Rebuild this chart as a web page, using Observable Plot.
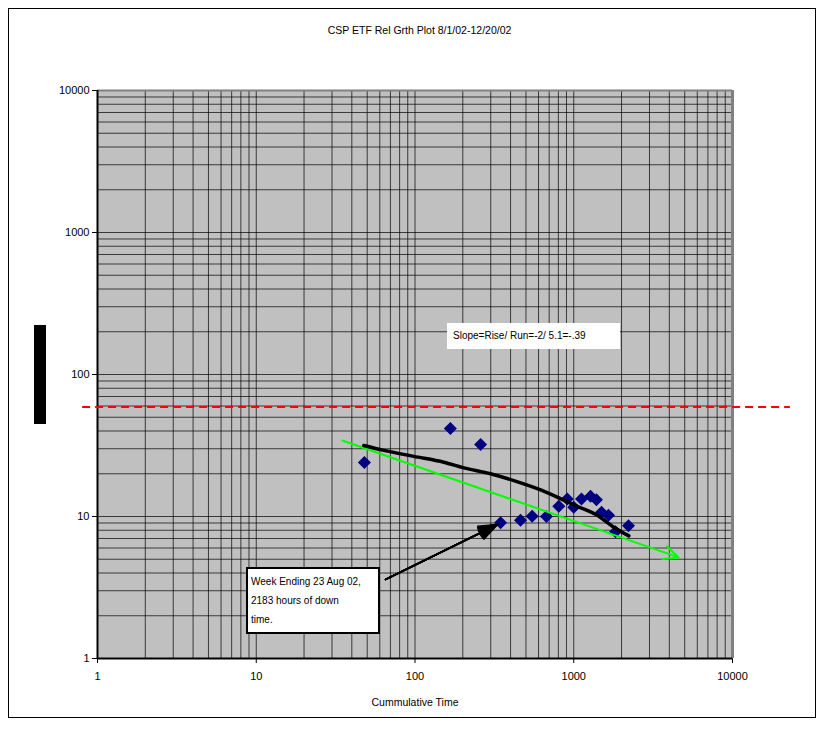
<!DOCTYPE html>
<html>
<head>
<meta charset="utf-8">
<script src="https://cdn.jsdelivr.net/npm/d3@7"></script>
<script src="https://cdn.jsdelivr.net/npm/@observablehq/plot@0.6"></script>
<style>
  body { margin: 0; background: #fff; font-family: "Liberation Sans", Arial, sans-serif; }
  #wrap { position: relative; width: 823px; height: 737px; overflow: hidden; }
  #chart { position: absolute; left: 0; top: 0; }
  .ov { position: absolute; color: #000; font-size: 10px; line-height: 1; }
</style>
</head>
<body>
<div id="wrap">
  <div id="chart"></div>
  <div class="ov" style="left:8px;top:8px;width:806px;height:708px;border:1px solid #000;"></div>
  <div class="ov" id="title" style="left:97px;width:645px;top:25px;text-align:center;font-size:10.5px;"></div>
  <div class="ov" style="left:34px;top:325px;width:12px;height:99px;background:#000;"></div>
  <div class="ov" id="slope" style="left:447px;top:323px;width:167px;height:26px;background:#fff;padding-left:6px;line-height:26px;"></div>
  <div class="ov" id="note" style="left:246px;top:567px;width:127px;height:60px;background:#fff;border:2px solid #000;padding:3px 0 0 3px;line-height:19px;"></div>
</div>
<script>
// ---- data ----
const titleText = "CSP ETF Rel Grth Plot 8/1/02-12/20/02";
const xAxisLabel = "Cummulative Time";
const slopeText = "Slope=Rise/ Run=-2/ 5.1=-.39";
const noteLines = ["Week Ending 23 Aug 02,", "2183 hours of down", "time."];

const xTickValues = [1, 10, 100, 1000, 10000];
const yTickValues = [1, 10, 100, 1000, 10000];
const decades = [1, 10, 100, 1000];
const gridSteps = [1, 2, 3, 4, 5, 6, 7, 8, 9];

// observed points (diamonds)
const cumTime  = [48, 167, 259, 346, 462, 547, 673, 805, 910, 1000, 1119, 1276, 1390, 1496, 1656, 1833, 2213];
const failRate = [24.0, 41.7, 32.1, 9.04, 9.4, 10.05, 10.0, 11.8, 13.3, 11.6, 13.3, 13.9, 13.1, 10.7, 10.2, 7.8, 8.6];

// cumulative (black) curve
const fitTime = [47.6, 63.6, 98.3, 152, 203, 299, 419, 589, 787, 1051, 1406, 1787, 2222];
const fitRate = [31.6, 29.2, 26.5, 24.1, 22.0, 20.0, 17.9, 15.7, 13.7, 11.8, 10.2, 8.4, 7.3];

// green trend arrow
const trendFrom = [34.8, 34.3];
const trendTo   = [4570, 5.15];

// callout arrow
const calloutFrom = [65.2, 3.6];
const calloutTo   = [331, 8.79];

// red dashed goal line
const goalRate = 59;
const goalSpan = [0.8, 23000];

// ---- build tables ----
const points = cumTime.map((t, i) => ({t, r: failRate[i]}));
const fit = fitTime.map((t, i) => ({t, r: fitRate[i]}));
const grid = decades.flatMap(d => gridSteps.map(s => s * d)).concat([10000]);
const trend = [{x1: trendFrom[0], y1: trendFrom[1], x2: trendTo[0], y2: trendTo[1]}];
const callout = [{x1: calloutFrom[0], y1: calloutFrom[1], x2: calloutTo[0], y2: calloutTo[1]}];
const goal = [{x1: goalSpan[0], x2: goalSpan[1], y: goalRate}];
const headAngles = [6, 12, 18, 24, 30, 36, 42];

const chart = Plot.plot({
  width: 823,
  height: 737,
  marginLeft: 97,
  marginRight: 91,
  marginTop: 90,
  marginBottom: 79,
  style: {fontFamily: '"Liberation Sans", Arial, sans-serif', fontSize: "11px", background: "transparent", color: "#000", overflow: "visible"},
  x: {type: "log", domain: [1, 10000], ticks: xTickValues, tickFormat: d => String(d), tickSize: 5, tickPadding: 9, label: null},
  y: {type: "log", domain: [1, 10000], ticks: yTickValues, tickFormat: d => String(d), tickSize: 5, tickPadding: 3, label: null},
  marks: [
    Plot.frame({fill: "#c0c0c0", stroke: null}),
    Plot.ruleX(grid, {stroke: "#000", strokeOpacity: 0.7, strokeWidth: 1}),
    Plot.ruleY(grid, {stroke: "#000", strokeOpacity: 0.7, strokeWidth: 1}),
    Plot.ruleX([10000], {stroke: "#808080", strokeWidth: 3}),
    Plot.ruleY([10000], {stroke: "#808080", strokeWidth: 2}),
    Plot.ruleX([1], {stroke: "#000", strokeWidth: 2}),
    Plot.ruleY([1], {stroke: "#000", strokeWidth: 2}),
    Plot.link(goal, {x1: "x1", x2: "x2", y1: "y", y2: "y", stroke: "#ff0000", strokeWidth: 2, strokeDasharray: "8,5"}),
    Plot.dot(points, {x: "t", y: "r", symbol: "square", r: 5.2, rotate: 45, fill: "#000080", stroke: null}),
    Plot.arrow(trend, {x1: "x1", y1: "y1", x2: "x2", y2: "y2", stroke: "#00ff00", strokeWidth: 2, headLength: 12, headAngle: 50}),
    Plot.line(fit, {x: "t", y: "r", stroke: "#000", strokeWidth: 3.5, curve: "monotone-x"}),
    ...headAngles.map(a => Plot.arrow(callout, {x1: "x1", y1: "y1", x2: "x2", y2: "y2", stroke: "#000", strokeWidth: 1.5, headLength: 20, headAngle: a})),
    Plot.text([xAxisLabel], {frameAnchor: "bottom", dy: 47, fontSize: 10.5})
  ]
});
document.getElementById("chart").appendChild(chart);
document.getElementById("title").textContent = titleText;
document.getElementById("slope").textContent = slopeText;
document.getElementById("note").innerHTML = noteLines.map(s => `<div>${s}</div>`).join("");
</script>
</body>
</html>
